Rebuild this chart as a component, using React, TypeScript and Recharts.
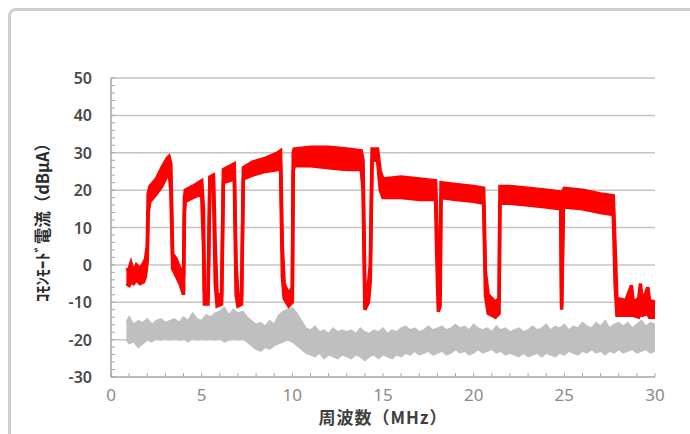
import { ComposedChart, Area, XAxis, YAxis, CartesianGrid, Label } from "recharts";

// red trace: band (low/high envelope) of the measured common-mode current
const redFreq = [
  0.85, 1.0, 1.1, 1.25, 1.4, 1.6, 1.8, 1.9, 2.0, 2.05,
  2.15, 2.5, 2.8, 3.1, 3.2, 3.3, 3.4, 3.6, 3.8, 4.0,
  4.05, 4.1, 4.5, 5.0, 5.1, 5.15, 5.35, 5.45, 5.65, 5.75,
  5.85, 6.1, 6.2, 6.8, 6.9, 7.0, 7.2, 7.3, 7.8, 8.5,
  9.2, 9.35, 9.45, 9.55, 9.8, 10.0, 10.05, 10.1, 11.0, 12.0,
  13.0, 13.8, 13.9, 14.0, 14.2, 14.3, 14.4, 14.7, 14.85, 15.0,
  16.0, 17.0, 17.9, 17.95, 18.05, 18.15, 18.2, 19.0, 20.0, 20.55,
  20.65, 20.8, 21.2, 21.4, 21.45, 22.0, 23.0, 24.0, 24.8, 24.85,
  24.95, 25.0, 26.0, 27.0, 27.7, 27.8, 27.9, 28.4, 28.7, 28.8,
  29.1, 29.2, 29.3, 29.6, 29.7, 30.0,
];
const redLow = [
  -5, -5.5, -4.5, -5, -4, -5, -4.5, -3, 1, 14,
  17, 19, 21, 24, 25, 20, -1, -3, -5, -8,
  14, 17, 18, 19, 5, -10.5, -10.5, 20, 21, -5,
  -11, -10.5, 22, 23, -8, -11, -10.5, 23, 24, 25,
  25.5, 26, -3, -9, -11, -10, 25, 26.5, 26.5, 26,
  25.5, 25.5, 20, -12, -10, -4, 28, 28, 20, 18,
  18, 17.5, 17.5, 5, -12.5, -11, 18, 17.5, 17, 16.5,
  -8, -13, -14, -13, 16.5, 16.5, 16, 15.5, 15, -12,
  15.5, 15.5, 15, 14, 13.5, -5, -13.5, -13.5, -13.5, -13.5,
  -14, -13, -13.5, -13, -14, -14,
];
const redHigh = [
  -1.5, -1, 0.5, -2, 0, -1, 0.5, 1.5, 5, 19,
  21, 23, 26, 28.5, 29, 27, 3, 1.5, -1, -3,
  18, 20, 21, 22.5, 15, -7, -8, 23.5, 24, 5,
  -8, -8, 25.5, 27, 0, -8, -8, 26, 27.5, 28.5,
  30, 30.5, 5, -5, -8, -6, 30, 31, 31.5, 31.5,
  31, 30.5, 28, -6, -5, 0, 31, 31, 25, 23,
  23.5, 23, 22.5, 15, -8, -5, 22, 21.5, 21, 20.5,
  -2, -8, -10, -9, 21, 21, 20.5, 20, 19.5, -11,
  20, 20.5, 20, 19, 18.5, 5, -9, -9.5, -5.5, -10,
  -9, -5, -10, -6, -9.5, -10,
];

// gray trace: background noise band
const grayFreq = [
  0.85, 1.0, 1.25, 1.5, 1.75, 2.0, 2.25, 2.5, 2.75, 3.0,
  3.25, 3.5, 3.75, 4.0, 4.25, 4.5, 4.75, 5.0, 5.25, 5.5,
  5.75, 6.0, 6.25, 6.5, 6.75, 7.0, 7.25, 7.5, 7.75, 8.0,
  8.25, 8.5, 8.75, 9.0, 9.25, 9.5, 9.75, 10.0, 10.25, 10.5,
  10.75, 11.0, 11.25, 11.5, 11.75, 12.0, 12.25, 12.5, 12.75, 13.0,
  13.25, 13.5, 13.75, 14.0, 14.25, 14.5, 14.75, 15.0, 15.25, 15.5,
  15.75, 16.0, 16.25, 16.5, 16.75, 17.0, 17.25, 17.5, 17.75, 18.0,
  18.25, 18.5, 18.75, 19.0, 19.25, 19.5, 19.75, 20.0, 20.25, 20.5,
  20.75, 21.0, 21.25, 21.5, 21.75, 22.0, 22.25, 22.5, 22.75, 23.0,
  23.25, 23.5, 23.75, 24.0, 24.25, 24.5, 24.75, 25.0, 25.25, 25.5,
  25.75, 26.0, 26.25, 26.5, 26.75, 27.0, 27.25, 27.5, 27.75, 28.0,
  28.25, 28.5, 28.75, 29.0, 29.25, 29.5, 29.75, 30.0,
];
const grayHigh = [
  -15.5, -14, -16, -15, -15.5, -14.5, -16, -15, -14.5, -15.5,
  -15, -14.5, -15.5, -14, -15, -13, -14.5, -15, -13.5, -14,
  -13, -12.5, -11.5, -13.5, -12, -13, -12.5, -14, -15, -16,
  -15.5, -16.5, -15, -16, -13.5, -12.5, -12, -11.5, -13, -15,
  -17, -17.5, -16.5, -18, -17.5, -18.5, -17, -18, -17.5, -18,
  -17.5, -18.5, -17, -18, -18.5, -17.5, -18, -17, -18.5, -17.5,
  -18, -17, -16.5, -17.5, -17, -18, -17.5, -16.5, -17.5, -17,
  -16.5, -17.5, -17, -16, -17, -16.5, -17.5, -16, -17, -17.5,
  -17, -18, -16.5, -17.5, -17, -18, -17.5, -17, -18, -17.5,
  -16.5, -17.5, -17, -16, -17.5, -16.5, -17, -16, -17.5, -16.5,
  -17, -15.5, -16.5, -17, -15.5, -16.5, -15, -17, -16, -15.5,
  -16.5, -15.5, -17, -16, -15, -16.5, -15.5, -16,
];
const grayLow = [
  -20, -21, -20.5, -22, -21, -20, -20.5, -19.5, -20, -19.5,
  -20, -19.5, -20, -19.5, -20.5, -19.5, -20, -19.5, -20, -19.5,
  -20, -19.5, -20.5, -20, -19.5, -20, -19.5, -20.5, -21.5, -22.5,
  -23, -22, -22.5, -21.5, -21, -20.5, -20, -20.5, -21.5, -22.5,
  -23.5, -24, -24.5, -23.5, -25, -24, -24.5, -25, -24, -24.5,
  -25, -24, -24.5, -25.5, -24.5, -24, -25, -24, -24.5, -25,
  -24, -24.5, -23.5, -24, -23, -24, -23.5, -23, -24, -23.5,
  -23, -24, -23.5, -22.5, -23.5, -23, -24, -23.5, -22.5, -23.5,
  -23, -22.5, -23.5, -23, -24, -23.5, -24, -24.5, -23.5, -24.5,
  -24, -23.5, -24.5, -23.5, -24, -24.5, -23.5, -24, -23, -23.5,
  -24, -23, -23.5, -22.5, -23.5, -23, -24, -23, -23.5, -22.5,
  -23.5, -23, -22.5, -23.5, -23, -22.5, -23.5, -23,
];

const xTicks = [
  0, 1, 2, 3, 4, 5, 6, 7, 8, 9, 10, 11, 12, 13, 14, 15,
  16, 17, 18, 19, 20, 21, 22, 23, 24, 25, 26, 27, 28, 29, 30,
];
const yTicks = [
  -30, -28, -26, -24, -22, -20, -18, -16, -14, -12, -10, -8, -6, -4, -2, 0,
  2, 4, 6, 8, 10, 12, 14, 16, 18, 20, 22, 24, 26, 28, 30, 32, 34, 36, 38, 40,
  42, 44, 46, 48, 50,
];
const gridValues = [-20, -10, 0, 10, 20, 30, 40, 50];

type Row = { f: number; red?: [number, number]; gray?: [number, number] };

const rows: Row[] = [
  ...redFreq.map((f, i) => ({ f, red: [redLow[i], redHigh[i]] as [number, number] })),
  ...grayFreq.map((f, i) => ({ f, gray: [grayLow[i], grayHigh[i]] as [number, number] })),
].sort((a, b) => a.f - b.f);

const XTick = (props: any) => {
  const { x, y, payload } = props;
  const v = payload.value as number;
  return (
    <g>
      <line x1={x} y1={y} x2={x} y2={y - 4} stroke="#a6a6a6" strokeWidth={1} />
      {v % 5 === 0 && (
        <text
          x={x}
          y={y + 24}
          textAnchor="middle"
          fontSize={17}
          fill="#8a8a8a"
          fontFamily="'Noto Sans', sans-serif"
        >
          {v}
        </text>
      )}
    </g>
  );
};

const YTick = (props: any) => {
  const { x, y, payload } = props;
  const v = payload.value as number;
  return (
    <g>
      <line x1={x} y1={y} x2={x + 4} y2={y} stroke="#a6a6a6" strokeWidth={1} />
      {v % 10 === 0 && (
        <text
          x={x - 19}
          y={y + 6}
          textAnchor="end"
          fontSize={16}
          fontWeight={600}
          fill="#4a4a4a"
          fontFamily="'Noto Sans', sans-serif"
        >
          {v}
        </text>
      )}
    </g>
  );
};

const YTitle = (props: any) => {
  const { viewBox } = props;
  const cx = 42;
  const cy = viewBox.y + viewBox.height / 2 - 9;
  return (
    <text
      x={cx}
      y={cy}
      transform={`rotate(-90 ${cx} ${cy})`}
      textAnchor="middle"
      dominantBaseline="central"
      fontSize={16.5}
      fontWeight={700}
      fill="#2a2a2a"
      fontFamily="'Noto Sans CJK JP', sans-serif"
    >
      ｺﾓﾝﾓｰﾄﾞ電流（dBμA）
    </text>
  );
};

const XTitle = (props: any) => {
  const { viewBox } = props;
  const cx = viewBox.x + viewBox.width / 2;
  return (
    <text
      x={cx}
      y={424}
      textAnchor="middle"
      fontSize={17}
      fontWeight={700}
      letterSpacing={1}
      fill="#404040"
      fontFamily="'Noto Sans CJK JP', sans-serif"
    >
      周波数（MHz）
    </text>
  );
};

export default function App() {
  return (
    <div
      style={{
        position: "absolute",
        left: 0,
        top: 0,
        width: 690,
        height: 434,
        overflow: "hidden",
        background: "#fff",
      }}
    >
      <div
        style={{
          position: "absolute",
          left: 8,
          top: 8,
          width: 720,
          height: 460,
          border: "3px solid #cfcfcf",
          borderRadius: 8,
          boxSizing: "border-box",
        }}
      />
      <div style={{ position: "absolute", left: 0, top: 0 }}>
        <ComposedChart
          width={690}
          height={434}
          data={rows}
          margin={{ top: 78, right: 35, bottom: 27, left: 51 }}
        >
          <CartesianGrid
            vertical={false}
            horizontalValues={gridValues}
            stroke="#c4c4c4"
            strokeWidth={1.5}
          />
          <XAxis
            dataKey="f"
            type="number"
            domain={[0, 30]}
            ticks={xTicks}
            interval={0}
            height={30}
            tickSize={0}
            tickMargin={0}
            tickLine={false}
            axisLine={{ stroke: "#a6a6a6", strokeWidth: 1.5 }}
            tick={<XTick />}
            label={<Label content={<XTitle />} />}
          />
          <YAxis
            type="number"
            domain={[-30, 50]}
            ticks={yTicks}
            interval={0}
            width={60}
            tickSize={0}
            tickMargin={0}
            tickLine={false}
            axisLine={{ stroke: "#a6a6a6", strokeWidth: 1.5 }}
            tick={<YTick />}
            label={<Label content={<YTitle />} />}
          />
          <Area
            type="linear"
            dataKey="gray"
            stroke="#bfbfbf"
            strokeWidth={2}
            fill="#bfbfbf"
            fillOpacity={1}
            connectNulls
            dot={false}
            activeDot={false}
            isAnimationActive={false}
          />
          <Area
            type="linear"
            dataKey="red"
            stroke="#ff0000"
            strokeWidth={3.5}
            fill="#ff0000"
            fillOpacity={1}
            connectNulls
            dot={false}
            activeDot={false}
            isAnimationActive={false}
          />
        </ComposedChart>
      </div>
    </div>
  );
}
